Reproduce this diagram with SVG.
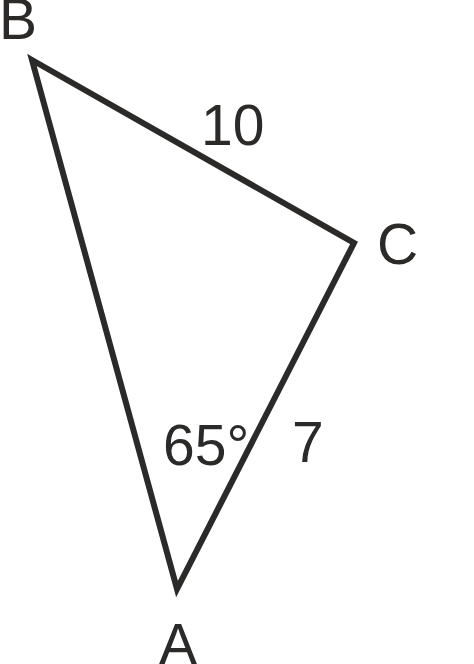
<svg xmlns="http://www.w3.org/2000/svg" width="474" height="664" viewBox="0 0 474 664">
<style>
.lbl{font-family:"Liberation Sans",Arial,sans-serif;font-size:57px;fill:#2b2a29}
.edge{fill:none;stroke:#2b2a29;stroke-width:6;stroke-linejoin:miter;stroke-miterlimit:10}
</style>
<rect width="474" height="664" fill="#ffffff"/>
<g id="connectors">
<polygon class="edge" points="32,60 354,243 177,589"/>
</g>
<g id="node-B"><text class="lbl" x="-1" y="39">B</text></g>
<g id="node-C"><text class="lbl" x="377" y="264">C</text></g>
<g id="node-A"><text class="lbl" x="159" y="664">A</text></g>
<g id="label-10"><text class="lbl" x="201" y="145">10</text></g>
<g id="label-65"><text class="lbl" x="163" y="465">65°</text></g>
<g id="label-7"><text class="lbl" x="292" y="462">7</text></g>
</svg>
